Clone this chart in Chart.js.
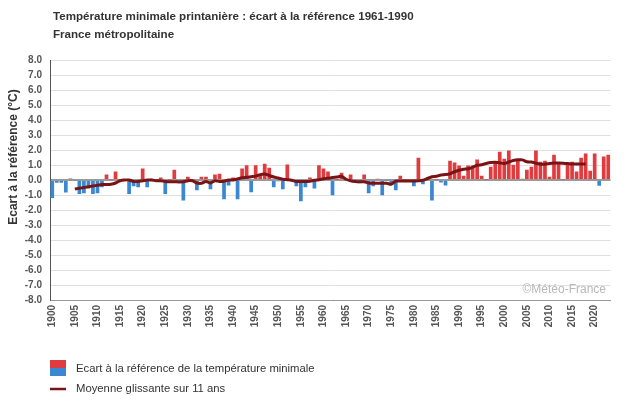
<!DOCTYPE html>
<html>
<head>
<meta charset="utf-8">
<script src="https://cdn.jsdelivr.net/npm/chart.js@4.4.0/dist/chart.umd.min.js"></script>
<style>
html, body { margin: 0; padding: 0; background: #fff; }
#wrap { width: 630px; height: 405px; position: relative; }
</style>
</head>
<body>
<div id="wrap"><canvas id="chart" width="630" height="405"></canvas></div>
<script>
'use strict';

// Temperature minimale printaniere, ecart a 1961-1990

var firstYear = 1900;
var lastYear = 2023;
var years = [];
for (var y = firstYear; y <= lastYear; y++) years.push(String(y));

var ecart = [
	-1.2, -0.18, -0.18, -0.84, 0.1, -0.05, -0.93, -0.89, -0.56, -0.93,
	-0.89, -0.49, 0.36, 0.03, 0.56, 0.03, 0.03, -0.93, -0.42, -0.49,
	0.76, -0.49, 0.09, -0.03, 0.16, -0.93, 0.03, 0.69, -0.03, -1.36,
	0.22, 0.03, -0.69, 0.22, 0.22, -0.62, 0.36, 0.42, -1.29, -0.36,
	0.16, -1.29, 0.76, 0.98, -0.82, 0.98, 0.4, 1.09, 0.82, -0.49,
	-0.09, -0.62, 1.04, -0.09, -0.42, -1.42, -0.49, 0.16, -0.56, 0.98,
	0.76, 0.56, -1.02, 0.03, 0.49, 0.03, 0.36, -0.03, -0.22, 0.36,
	-0.89, -0.42, 0.09, -1.02, -0.03, -0.33, -0.69, 0.29, 0.03, -0.03,
	-0.42, 1.49, -0.29, 0.03, -1.36, 0.03, -0.16, -0.36, 1.29, 1.16,
	0.96, 0.29, 0.96, 0.96, 1.36, 0.29, 0.03, 0.89, 1.2, 1.89,
	1.42, 1.96, 1.02, 1.36, 0.09, 0.69, 0.89, 1.96, 1.22, 1.29,
	0.22, 1.69, 1.16, 0.03, 1.09, 1.22, 0.56, 1.49, 1.76, 0.62,
	1.76, -0.38, 1.56, 1.69
];

// moyenne glissante sur 11 ans, de 1905 a 2018
var moyenneStart = 1905;
var moyenne = [
	-0.6, -0.55, -0.5, -0.45, -0.4, -0.35, -0.3, -0.3, -0.28, -0.2,
	-0.05, 0.0, 0.0, -0.1, -0.1, -0.05, 0.0, 0.0, -0.05, -0.05,
	-0.1, -0.12, -0.12, -0.13, -0.12, -0.05, -0.05, -0.2, -0.22, -0.1,
	-0.2, -0.05, -0.1, -0.08, 0.0, 0.0, 0.07, 0.15, 0.18, 0.22,
	0.26, 0.36, 0.4, 0.3, 0.2, 0.13, 0.05, 0.02, -0.02, -0.1,
	-0.1, -0.1, -0.08, -0.02, 0.02, 0.08, 0.12, 0.16, 0.2, 0.24,
	0.05, -0.05, -0.1, -0.12, -0.12, -0.2, -0.22, -0.22, -0.22, -0.22,
	-0.28, -0.08, -0.07, -0.07, -0.07, -0.07, -0.05, -0.02, 0.1, 0.22,
	0.25, 0.33, 0.36, 0.42, 0.55, 0.65, 0.72, 0.75, 0.85, 0.98,
	1.02, 1.1, 1.16, 1.18, 1.15, 1.1, 1.2, 1.3, 1.35, 1.34,
	1.22, 1.2, 1.12, 1.05, 1.05, 1.1, 1.13, 1.13, 1.12, 1.1,
	1.07, 1.07, 1.07, 1.07
];

var yMin = -8;
var yMax = 8;

var moyenneData = years.map(function (yr) {
	var i = Number(yr) - moyenneStart;
	return (i >= 0 && i < moyenne.length) ? moyenne[i] : null;
});

var RED = '#e03c3f';
var BLUE = '#3a87d2';
var DARK = '#7a1315';
var FONT = "'Liberation Sans', Arial, sans-serif";

var decor = {
	id: 'decor',
	afterDraw: function (chart) {
		var c = chart.ctx;
		c.save();
		c.textBaseline = 'middle';
		c.fillStyle = '#333';
		c.font = 'bold 11.6px ' + FONT;
		c.textAlign = 'left';
		c.fillText('Température minimale printanière : écart à la référence 1961-1990', 53, 17);
		c.fillText('France métropolitaine', 53, 35);

		// titre axe y
		c.save();
		c.translate(14, 157);
		c.rotate(-Math.PI / 2);
		c.textAlign = 'center';
		c.font = 'bold 12px ' + FONT;
		c.fillText('Ecart à la référence (°C)', 0, 0);
		c.restore();

		// filigrane
		c.font = '12px ' + FONT;
		c.fillStyle = '#b8b8b8';
		c.textAlign = 'right';
		c.fillText('©Météo-France', 606, 290);

		// legende
		c.fillStyle = RED;
		c.fillRect(50, 360, 16, 8);
		c.fillStyle = BLUE;
		c.fillRect(50, 368, 16, 8);
		c.strokeStyle = DARK;
		c.lineWidth = 2.5;
		c.beginPath();
		c.moveTo(50, 389);
		c.lineTo(66, 389);
		c.stroke();
		c.font = '11.3px ' + FONT;
		c.fillStyle = '#333';
		c.textAlign = 'left';
		c.fillText('Ecart à la référence de la température minimale', 76, 369);
		c.fillText('Moyenne glissante sur 11 ans', 76, 389);
		c.restore();
	}
};

var chart = new Chart(document.getElementById('chart'), {
	type: 'bar',
	data: {
		labels: years,
		datasets: [{
			type: 'line',
			label: 'Moyenne glissante sur 11 ans',
			data: moyenneData,
			borderColor: DARK,
			borderWidth: 3,
			pointRadius: 0,
			tension: 0.3,
			spanGaps: false,
			order: 0
		}, {
			label: 'Ecart à la référence de la température minimale',
			data: ecart,
			backgroundColor: function (ctx) {
				return ctx.raw >= 0 ? RED : BLUE;
			},
			barPercentage: 0.82,
			categoryPercentage: 1.0,
			order: 1
		}]
	},
	options: {
		responsive: false,
		animation: false,
		layout: { padding: { left: 0, right: 19.5, top: 60, bottom: 60 } },
		plugins: {
			legend: { display: false },
			title: { display: false },
			tooltip: { enabled: false }
		},
		scales: {
			x: {
				grid: { display: false, drawTicks: false },
				border: { display: true, color: '#999', width: 1 },
				ticks: {
					autoSkip: false,
					minRotation: 90,
					maxRotation: 90,
					padding: 5,
					color: '#555',
					font: { family: FONT, size: 10, weight: 'bold' },
					callback: function (v, i) {
						var yr = Number(years[i]);
						return yr % 5 === 0 ? years[i] : '';
					}
				},
				afterFit: function (s) { s.height = 45; }
			},
			y: {
				min: yMin,
				max: yMax,
				grid: {
					drawTicks: false,
					color: function (ctx) { return ctx.tick.value === 0 ? '#999' : '#e0e0e0'; },
					lineWidth: function (ctx) { return ctx.tick.value === 0 ? 2 : 1; }
				},
				border: { display: true, color: '#555', width: 1 },
				ticks: {
					stepSize: 1,
					padding: 8,
					color: '#555',
					font: { family: FONT, size: 10, weight: 'bold' },
					callback: function (v) { return Number(v).toFixed(1); }
				},
				afterFit: function (s) { s.width = 50; }
			}
		}
	},
	plugins: [decor]
});
</script>
</body>
</html>
